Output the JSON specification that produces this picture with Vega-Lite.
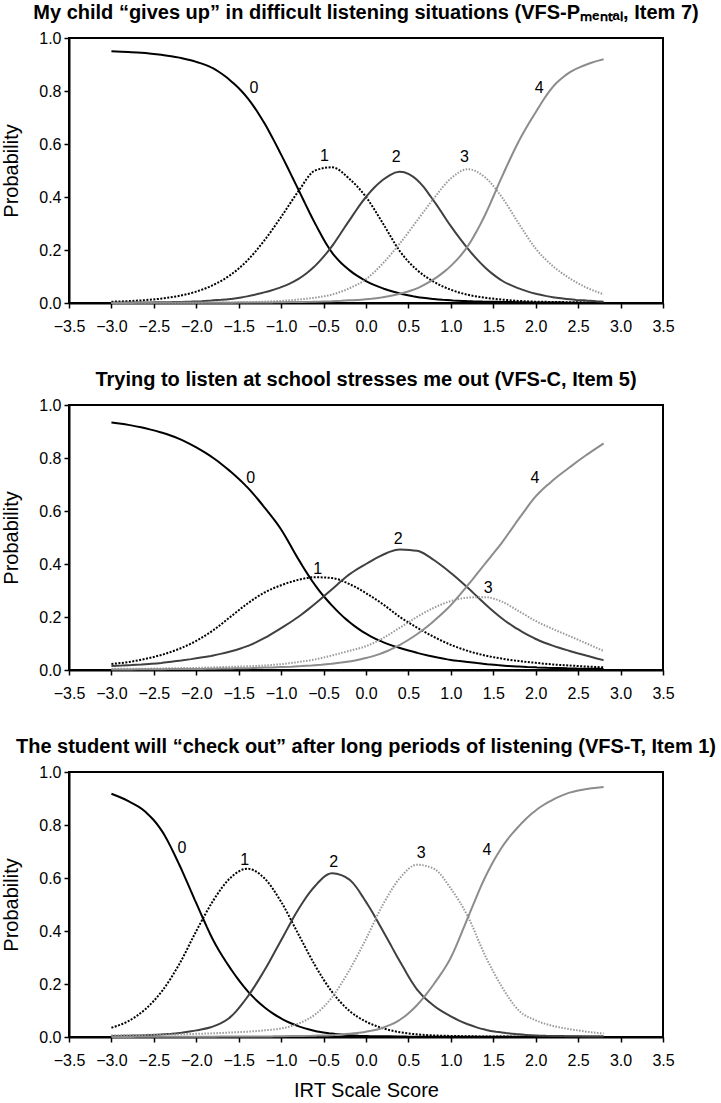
{
"$schema": "https://vega.github.io/schema/vega-lite/v6.json",
"padding": {"left": 0, "top": 2, "right": 5, "bottom": 0},
"spacing": 34,
"config": {
"font": "Liberation Sans",
"view": {"stroke": "#000", "strokeWidth": 2},
"axis": {"domainColor": "#000", "domainWidth": 2, "tickColor": "#000", "tickWidth": 1.5, "tickSize": 5, "labelFontSize": 16, "labelColor": "#000", "titleFontSize": 20, "titleFontWeight": "normal", "titleColor": "#000", "grid": false, "labelFont": "Liberation Sans", "titleFont": "Liberation Sans"},
"axisX": {"labelPadding": 10, "titlePadding": 12, "labelFlush": false, "labelOverlap": false},
"axisY": {"labelPadding": 3, "titlePadding": 17},
"title": {"fontSize": 20, "fontWeight": "bold", "color": "#000", "offset": 7, "anchor": "middle", "font": "Liberation Sans"},
"text": {"font": "Liberation Sans"}
},
"datasets": {
"c1": [
{"cat":"0","score":-3.0,"prob":0.950},{"cat":"0","score":-2.8,"prob":0.947},{"cat":"0","score":-2.6,"prob":0.943},{"cat":"0","score":-2.4,"prob":0.936},{"cat":"0","score":-2.2,"prob":0.926},{"cat":"0","score":-2.0,"prob":0.910},{"cat":"0","score":-1.8,"prob":0.885},{"cat":"0","score":-1.6,"prob":0.840},{"cat":"0","score":-1.4,"prob":0.775},{"cat":"0","score":-1.2,"prob":0.680},{"cat":"0","score":-1.0,"prob":0.560},{"cat":"0","score":-0.8,"prob":0.430},{"cat":"0","score":-0.6,"prob":0.300},{"cat":"0","score":-0.4,"prob":0.190},{"cat":"0","score":-0.2,"prob":0.125},{"cat":"0","score":0.0,"prob":0.083},{"cat":"0","score":0.2,"prob":0.055},{"cat":"0","score":0.4,"prob":0.036},{"cat":"0","score":0.6,"prob":0.023},{"cat":"0","score":0.8,"prob":0.015},{"cat":"0","score":1.0,"prob":0.010},{"cat":"0","score":1.2,"prob":0.007},{"cat":"0","score":1.4,"prob":0.005},{"cat":"0","score":1.6,"prob":0.004},{"cat":"0","score":1.8,"prob":0.003},{"cat":"0","score":2.0,"prob":0.002},{"cat":"0","score":2.2,"prob":0.002},{"cat":"0","score":2.4,"prob":0.001},{"cat":"0","score":2.6,"prob":0.001},{"cat":"0","score":2.8,"prob":0.001},
{"cat":"1","score":-3.0,"prob":0.005},{"cat":"1","score":-2.8,"prob":0.007},{"cat":"1","score":-2.6,"prob":0.011},{"cat":"1","score":-2.4,"prob":0.017},{"cat":"1","score":-2.2,"prob":0.027},{"cat":"1","score":-2.0,"prob":0.043},{"cat":"1","score":-1.8,"prob":0.068},{"cat":"1","score":-1.6,"prob":0.105},{"cat":"1","score":-1.4,"prob":0.160},{"cat":"1","score":-1.2,"prob":0.235},{"cat":"1","score":-1.0,"prob":0.325},{"cat":"1","score":-0.8,"prob":0.420},{"cat":"1","score":-0.6,"prob":0.500},{"cat":"1","score":-0.4,"prob":0.512},{"cat":"1","score":-0.2,"prob":0.470},{"cat":"1","score":0.0,"prob":0.400},{"cat":"1","score":0.2,"prob":0.300},{"cat":"1","score":0.4,"prob":0.195},{"cat":"1","score":0.6,"prob":0.125},{"cat":"1","score":0.8,"prob":0.080},{"cat":"1","score":1.0,"prob":0.050},{"cat":"1","score":1.2,"prob":0.031},{"cat":"1","score":1.4,"prob":0.020},{"cat":"1","score":1.6,"prob":0.013},{"cat":"1","score":1.8,"prob":0.008},{"cat":"1","score":2.0,"prob":0.005},{"cat":"1","score":2.2,"prob":0.004},{"cat":"1","score":2.4,"prob":0.003},{"cat":"1","score":2.6,"prob":0.002},{"cat":"1","score":2.8,"prob":0.001},
{"cat":"2","score":-3.0,"prob":0.001},{"cat":"2","score":-2.8,"prob":0.002},{"cat":"2","score":-2.6,"prob":0.002},{"cat":"2","score":-2.4,"prob":0.003},{"cat":"2","score":-2.2,"prob":0.004},{"cat":"2","score":-2.0,"prob":0.006},{"cat":"2","score":-1.8,"prob":0.010},{"cat":"2","score":-1.6,"prob":0.015},{"cat":"2","score":-1.4,"prob":0.025},{"cat":"2","score":-1.2,"prob":0.040},{"cat":"2","score":-1.0,"prob":0.060},{"cat":"2","score":-0.8,"prob":0.090},{"cat":"2","score":-0.6,"prob":0.140},{"cat":"2","score":-0.4,"prob":0.215},{"cat":"2","score":-0.2,"prob":0.310},{"cat":"2","score":0.0,"prob":0.400},{"cat":"2","score":0.2,"prob":0.465},{"cat":"2","score":0.4,"prob":0.495},{"cat":"2","score":0.6,"prob":0.465},{"cat":"2","score":0.8,"prob":0.385},{"cat":"2","score":1.0,"prob":0.290},{"cat":"2","score":1.2,"prob":0.205},{"cat":"2","score":1.4,"prob":0.135},{"cat":"2","score":1.6,"prob":0.085},{"cat":"2","score":1.8,"prob":0.055},{"cat":"2","score":2.0,"prob":0.035},{"cat":"2","score":2.2,"prob":0.022},{"cat":"2","score":2.4,"prob":0.014},{"cat":"2","score":2.6,"prob":0.009},{"cat":"2","score":2.8,"prob":0.005},
{"cat":"3","score":-3.0,"prob":0.000},{"cat":"3","score":-2.8,"prob":0.001},{"cat":"3","score":-2.6,"prob":0.001},{"cat":"3","score":-2.4,"prob":0.001},{"cat":"3","score":-2.2,"prob":0.001},{"cat":"3","score":-2.0,"prob":0.001},{"cat":"3","score":-1.8,"prob":0.002},{"cat":"3","score":-1.6,"prob":0.002},{"cat":"3","score":-1.4,"prob":0.003},{"cat":"3","score":-1.2,"prob":0.005},{"cat":"3","score":-1.0,"prob":0.008},{"cat":"3","score":-0.8,"prob":0.013},{"cat":"3","score":-0.6,"prob":0.020},{"cat":"3","score":-0.4,"prob":0.032},{"cat":"3","score":-0.2,"prob":0.055},{"cat":"3","score":0.0,"prob":0.090},{"cat":"3","score":0.2,"prob":0.150},{"cat":"3","score":0.4,"prob":0.225},{"cat":"3","score":0.6,"prob":0.310},{"cat":"3","score":0.8,"prob":0.395},{"cat":"3","score":1.0,"prob":0.470},{"cat":"3","score":1.2,"prob":0.505},{"cat":"3","score":1.4,"prob":0.475},{"cat":"3","score":1.6,"prob":0.400},{"cat":"3","score":1.8,"prob":0.300},{"cat":"3","score":2.0,"prob":0.205},{"cat":"3","score":2.2,"prob":0.140},{"cat":"3","score":2.4,"prob":0.093},{"cat":"3","score":2.6,"prob":0.058},{"cat":"3","score":2.8,"prob":0.033},
{"cat":"4","score":-3.0,"prob":0.000},{"cat":"4","score":-2.8,"prob":0.000},{"cat":"4","score":-2.6,"prob":0.001},{"cat":"4","score":-2.4,"prob":0.001},{"cat":"4","score":-2.2,"prob":0.001},{"cat":"4","score":-2.0,"prob":0.001},{"cat":"4","score":-1.8,"prob":0.001},{"cat":"4","score":-1.6,"prob":0.001},{"cat":"4","score":-1.4,"prob":0.002},{"cat":"4","score":-1.2,"prob":0.002},{"cat":"4","score":-1.0,"prob":0.003},{"cat":"4","score":-0.8,"prob":0.004},{"cat":"4","score":-0.6,"prob":0.005},{"cat":"4","score":-0.4,"prob":0.007},{"cat":"4","score":-0.2,"prob":0.010},{"cat":"4","score":0.0,"prob":0.014},{"cat":"4","score":0.2,"prob":0.022},{"cat":"4","score":0.4,"prob":0.035},{"cat":"4","score":0.6,"prob":0.055},{"cat":"4","score":0.8,"prob":0.090},{"cat":"4","score":1.0,"prob":0.140},{"cat":"4","score":1.2,"prob":0.215},{"cat":"4","score":1.4,"prob":0.330},{"cat":"4","score":1.6,"prob":0.475},{"cat":"4","score":1.8,"prob":0.610},{"cat":"4","score":2.0,"prob":0.720},{"cat":"4","score":2.2,"prob":0.815},{"cat":"4","score":2.4,"prob":0.870},{"cat":"4","score":2.6,"prob":0.900},{"cat":"4","score":2.8,"prob":0.920}
],
"c2": [
{"cat":"0","score":-3.0,"prob":0.934},{"cat":"0","score":-2.8,"prob":0.925},{"cat":"0","score":-2.6,"prob":0.912},{"cat":"0","score":-2.4,"prob":0.895},{"cat":"0","score":-2.2,"prob":0.872},{"cat":"0","score":-2.0,"prob":0.840},{"cat":"0","score":-1.8,"prob":0.800},{"cat":"0","score":-1.6,"prob":0.750},{"cat":"0","score":-1.4,"prob":0.690},{"cat":"0","score":-1.2,"prob":0.615},{"cat":"0","score":-1.0,"prob":0.530},{"cat":"0","score":-0.8,"prob":0.420},{"cat":"0","score":-0.6,"prob":0.320},{"cat":"0","score":-0.4,"prob":0.243},{"cat":"0","score":-0.2,"prob":0.182},{"cat":"0","score":0.0,"prob":0.137},{"cat":"0","score":0.2,"prob":0.105},{"cat":"0","score":0.4,"prob":0.083},{"cat":"0","score":0.6,"prob":0.065},{"cat":"0","score":0.8,"prob":0.050},{"cat":"0","score":1.0,"prob":0.038},{"cat":"0","score":1.2,"prob":0.030},{"cat":"0","score":1.4,"prob":0.023},{"cat":"0","score":1.6,"prob":0.017},{"cat":"0","score":1.8,"prob":0.013},{"cat":"0","score":2.0,"prob":0.010},{"cat":"0","score":2.2,"prob":0.008},{"cat":"0","score":2.4,"prob":0.006},{"cat":"0","score":2.6,"prob":0.005},{"cat":"0","score":2.8,"prob":0.004},
{"cat":"1","score":-3.0,"prob":0.023},{"cat":"1","score":-2.8,"prob":0.030},{"cat":"1","score":-2.6,"prob":0.042},{"cat":"1","score":-2.4,"prob":0.058},{"cat":"1","score":-2.2,"prob":0.080},{"cat":"1","score":-2.0,"prob":0.110},{"cat":"1","score":-1.8,"prob":0.150},{"cat":"1","score":-1.6,"prob":0.200},{"cat":"1","score":-1.4,"prob":0.250},{"cat":"1","score":-1.2,"prob":0.292},{"cat":"1","score":-1.0,"prob":0.320},{"cat":"1","score":-0.8,"prob":0.340},{"cat":"1","score":-0.6,"prob":0.350},{"cat":"1","score":-0.4,"prob":0.347},{"cat":"1","score":-0.2,"prob":0.325},{"cat":"1","score":0.0,"prob":0.290},{"cat":"1","score":0.2,"prob":0.248},{"cat":"1","score":0.4,"prob":0.200},{"cat":"1","score":0.6,"prob":0.160},{"cat":"1","score":0.8,"prob":0.125},{"cat":"1","score":1.0,"prob":0.095},{"cat":"1","score":1.2,"prob":0.072},{"cat":"1","score":1.4,"prob":0.055},{"cat":"1","score":1.6,"prob":0.043},{"cat":"1","score":1.8,"prob":0.034},{"cat":"1","score":2.0,"prob":0.027},{"cat":"1","score":2.2,"prob":0.021},{"cat":"1","score":2.4,"prob":0.017},{"cat":"1","score":2.6,"prob":0.013},{"cat":"1","score":2.8,"prob":0.010},
{"cat":"2","score":-3.0,"prob":0.015},{"cat":"2","score":-2.8,"prob":0.018},{"cat":"2","score":-2.6,"prob":0.022},{"cat":"2","score":-2.4,"prob":0.027},{"cat":"2","score":-2.2,"prob":0.035},{"cat":"2","score":-2.0,"prob":0.044},{"cat":"2","score":-1.8,"prob":0.055},{"cat":"2","score":-1.6,"prob":0.070},{"cat":"2","score":-1.4,"prob":0.090},{"cat":"2","score":-1.2,"prob":0.120},{"cat":"2","score":-1.0,"prob":0.158},{"cat":"2","score":-0.8,"prob":0.200},{"cat":"2","score":-0.6,"prob":0.250},{"cat":"2","score":-0.4,"prob":0.305},{"cat":"2","score":-0.2,"prob":0.360},{"cat":"2","score":0.0,"prob":0.400},{"cat":"2","score":0.2,"prob":0.435},{"cat":"2","score":0.4,"prob":0.455},{"cat":"2","score":0.6,"prob":0.450},{"cat":"2","score":0.8,"prob":0.415},{"cat":"2","score":1.0,"prob":0.366},{"cat":"2","score":1.2,"prob":0.310},{"cat":"2","score":1.4,"prob":0.250},{"cat":"2","score":1.6,"prob":0.195},{"cat":"2","score":1.8,"prob":0.152},{"cat":"2","score":2.0,"prob":0.117},{"cat":"2","score":2.2,"prob":0.092},{"cat":"2","score":2.4,"prob":0.072},{"cat":"2","score":2.6,"prob":0.054},{"cat":"2","score":2.8,"prob":0.037},
{"cat":"3","score":-3.0,"prob":0.004},{"cat":"3","score":-2.8,"prob":0.005},{"cat":"3","score":-2.6,"prob":0.005},{"cat":"3","score":-2.4,"prob":0.006},{"cat":"3","score":-2.2,"prob":0.007},{"cat":"3","score":-2.0,"prob":0.008},{"cat":"3","score":-1.8,"prob":0.010},{"cat":"3","score":-1.6,"prob":0.012},{"cat":"3","score":-1.4,"prob":0.014},{"cat":"3","score":-1.2,"prob":0.017},{"cat":"3","score":-1.0,"prob":0.022},{"cat":"3","score":-0.8,"prob":0.030},{"cat":"3","score":-0.6,"prob":0.040},{"cat":"3","score":-0.4,"prob":0.055},{"cat":"3","score":-0.2,"prob":0.072},{"cat":"3","score":0.0,"prob":0.090},{"cat":"3","score":0.2,"prob":0.120},{"cat":"3","score":0.4,"prob":0.160},{"cat":"3","score":0.6,"prob":0.200},{"cat":"3","score":0.8,"prob":0.235},{"cat":"3","score":1.0,"prob":0.260},{"cat":"3","score":1.2,"prob":0.273},{"cat":"3","score":1.4,"prob":0.275},{"cat":"3","score":1.6,"prob":0.258},{"cat":"3","score":1.8,"prob":0.222},{"cat":"3","score":2.0,"prob":0.185},{"cat":"3","score":2.2,"prob":0.155},{"cat":"3","score":2.4,"prob":0.128},{"cat":"3","score":2.6,"prob":0.100},{"cat":"3","score":2.8,"prob":0.072},
{"cat":"4","score":-3.0,"prob":0.002},{"cat":"4","score":-2.8,"prob":0.002},{"cat":"4","score":-2.6,"prob":0.003},{"cat":"4","score":-2.4,"prob":0.003},{"cat":"4","score":-2.2,"prob":0.004},{"cat":"4","score":-2.0,"prob":0.004},{"cat":"4","score":-1.8,"prob":0.005},{"cat":"4","score":-1.6,"prob":0.006},{"cat":"4","score":-1.4,"prob":0.007},{"cat":"4","score":-1.2,"prob":0.009},{"cat":"4","score":-1.0,"prob":0.011},{"cat":"4","score":-0.8,"prob":0.014},{"cat":"4","score":-0.6,"prob":0.018},{"cat":"4","score":-0.4,"prob":0.024},{"cat":"4","score":-0.2,"prob":0.032},{"cat":"4","score":0.0,"prob":0.045},{"cat":"4","score":0.2,"prob":0.065},{"cat":"4","score":0.4,"prob":0.095},{"cat":"4","score":0.6,"prob":0.135},{"cat":"4","score":0.8,"prob":0.185},{"cat":"4","score":1.0,"prob":0.245},{"cat":"4","score":1.2,"prob":0.320},{"cat":"4","score":1.4,"prob":0.400},{"cat":"4","score":1.6,"prob":0.480},{"cat":"4","score":1.8,"prob":0.570},{"cat":"4","score":2.0,"prob":0.655},{"cat":"4","score":2.2,"prob":0.715},{"cat":"4","score":2.4,"prob":0.765},{"cat":"4","score":2.6,"prob":0.812},{"cat":"4","score":2.8,"prob":0.855}
],
"c3": [
{"cat":"0","score":-3.0,"prob":0.918},{"cat":"0","score":-2.8,"prob":0.890},{"cat":"0","score":-2.6,"prob":0.850},{"cat":"0","score":-2.4,"prob":0.775},{"cat":"0","score":-2.2,"prob":0.650},{"cat":"0","score":-2.0,"prob":0.505},{"cat":"0","score":-1.8,"prob":0.365},{"cat":"0","score":-1.6,"prob":0.260},{"cat":"0","score":-1.4,"prob":0.175},{"cat":"0","score":-1.2,"prob":0.113},{"cat":"0","score":-1.0,"prob":0.070},{"cat":"0","score":-0.8,"prob":0.041},{"cat":"0","score":-0.6,"prob":0.023},{"cat":"0","score":-0.4,"prob":0.013},{"cat":"0","score":-0.2,"prob":0.007},{"cat":"0","score":0.0,"prob":0.004},{"cat":"0","score":0.2,"prob":0.003},{"cat":"0","score":0.4,"prob":0.002},{"cat":"0","score":0.6,"prob":0.001},{"cat":"0","score":0.8,"prob":0.001},{"cat":"0","score":1.0,"prob":0.001},{"cat":"0","score":1.2,"prob":0.001},{"cat":"0","score":1.4,"prob":0.001},{"cat":"0","score":1.6,"prob":0.001},{"cat":"0","score":1.8,"prob":0.001},{"cat":"0","score":2.0,"prob":0.001},{"cat":"0","score":2.2,"prob":0.001},{"cat":"0","score":2.4,"prob":0.001},{"cat":"0","score":2.6,"prob":0.001},{"cat":"0","score":2.8,"prob":0.001},
{"cat":"1","score":-3.0,"prob":0.035},{"cat":"1","score":-2.8,"prob":0.060},{"cat":"1","score":-2.6,"prob":0.105},{"cat":"1","score":-2.4,"prob":0.175},{"cat":"1","score":-2.2,"prob":0.275},{"cat":"1","score":-2.0,"prob":0.400},{"cat":"1","score":-1.8,"prob":0.515},{"cat":"1","score":-1.6,"prob":0.600},{"cat":"1","score":-1.4,"prob":0.635},{"cat":"1","score":-1.2,"prob":0.600},{"cat":"1","score":-1.0,"prob":0.510},{"cat":"1","score":-0.8,"prob":0.390},{"cat":"1","score":-0.6,"prob":0.270},{"cat":"1","score":-0.4,"prob":0.170},{"cat":"1","score":-0.2,"prob":0.100},{"cat":"1","score":0.0,"prob":0.058},{"cat":"1","score":0.2,"prob":0.033},{"cat":"1","score":0.4,"prob":0.018},{"cat":"1","score":0.6,"prob":0.010},{"cat":"1","score":0.8,"prob":0.006},{"cat":"1","score":1.0,"prob":0.004},{"cat":"1","score":1.2,"prob":0.003},{"cat":"1","score":1.4,"prob":0.002},{"cat":"1","score":1.6,"prob":0.002},{"cat":"1","score":1.8,"prob":0.001},{"cat":"1","score":2.0,"prob":0.001},{"cat":"1","score":2.2,"prob":0.001},{"cat":"1","score":2.4,"prob":0.001},{"cat":"1","score":2.6,"prob":0.001},{"cat":"1","score":2.8,"prob":0.001},
{"cat":"2","score":-3.0,"prob":0.004},{"cat":"2","score":-2.8,"prob":0.005},{"cat":"2","score":-2.6,"prob":0.007},{"cat":"2","score":-2.4,"prob":0.010},{"cat":"2","score":-2.2,"prob":0.015},{"cat":"2","score":-2.0,"prob":0.025},{"cat":"2","score":-1.8,"prob":0.040},{"cat":"2","score":-1.6,"prob":0.075},{"cat":"2","score":-1.4,"prob":0.150},{"cat":"2","score":-1.2,"prob":0.250},{"cat":"2","score":-1.0,"prob":0.365},{"cat":"2","score":-0.8,"prob":0.480},{"cat":"2","score":-0.6,"prob":0.570},{"cat":"2","score":-0.4,"prob":0.618},{"cat":"2","score":-0.2,"prob":0.595},{"cat":"2","score":0.0,"prob":0.510},{"cat":"2","score":0.2,"prob":0.400},{"cat":"2","score":0.4,"prob":0.285},{"cat":"2","score":0.6,"prob":0.180},{"cat":"2","score":0.8,"prob":0.118},{"cat":"2","score":1.0,"prob":0.078},{"cat":"2","score":1.2,"prob":0.048},{"cat":"2","score":1.4,"prob":0.028},{"cat":"2","score":1.6,"prob":0.017},{"cat":"2","score":1.8,"prob":0.010},{"cat":"2","score":2.0,"prob":0.006},{"cat":"2","score":2.2,"prob":0.004},{"cat":"2","score":2.4,"prob":0.003},{"cat":"2","score":2.6,"prob":0.002},{"cat":"2","score":2.8,"prob":0.002},
{"cat":"3","score":-3.0,"prob":0.007},{"cat":"3","score":-2.8,"prob":0.007},{"cat":"3","score":-2.6,"prob":0.008},{"cat":"3","score":-2.4,"prob":0.009},{"cat":"3","score":-2.2,"prob":0.010},{"cat":"3","score":-2.0,"prob":0.012},{"cat":"3","score":-1.8,"prob":0.014},{"cat":"3","score":-1.6,"prob":0.017},{"cat":"3","score":-1.4,"prob":0.020},{"cat":"3","score":-1.2,"prob":0.025},{"cat":"3","score":-1.0,"prob":0.032},{"cat":"3","score":-0.8,"prob":0.050},{"cat":"3","score":-0.6,"prob":0.085},{"cat":"3","score":-0.4,"prob":0.150},{"cat":"3","score":-0.2,"prob":0.250},{"cat":"3","score":0.0,"prob":0.370},{"cat":"3","score":0.2,"prob":0.500},{"cat":"3","score":0.4,"prob":0.600},{"cat":"3","score":0.6,"prob":0.650},{"cat":"3","score":0.8,"prob":0.635},{"cat":"3","score":1.0,"prob":0.560},{"cat":"3","score":1.2,"prob":0.455},{"cat":"3","score":1.4,"prob":0.310},{"cat":"3","score":1.6,"prob":0.190},{"cat":"3","score":1.8,"prob":0.100},{"cat":"3","score":2.0,"prob":0.063},{"cat":"3","score":2.2,"prob":0.042},{"cat":"3","score":2.4,"prob":0.030},{"cat":"3","score":2.6,"prob":0.020},{"cat":"3","score":2.8,"prob":0.013},
{"cat":"4","score":-3.0,"prob":0.000},{"cat":"4","score":-2.8,"prob":0.000},{"cat":"4","score":-2.6,"prob":0.001},{"cat":"4","score":-2.4,"prob":0.001},{"cat":"4","score":-2.2,"prob":0.001},{"cat":"4","score":-2.0,"prob":0.001},{"cat":"4","score":-1.8,"prob":0.001},{"cat":"4","score":-1.6,"prob":0.002},{"cat":"4","score":-1.4,"prob":0.002},{"cat":"4","score":-1.2,"prob":0.002},{"cat":"4","score":-1.0,"prob":0.003},{"cat":"4","score":-0.8,"prob":0.004},{"cat":"4","score":-0.6,"prob":0.005},{"cat":"4","score":-0.4,"prob":0.007},{"cat":"4","score":-0.2,"prob":0.012},{"cat":"4","score":0.0,"prob":0.020},{"cat":"4","score":0.2,"prob":0.035},{"cat":"4","score":0.4,"prob":0.065},{"cat":"4","score":0.6,"prob":0.120},{"cat":"4","score":0.8,"prob":0.200},{"cat":"4","score":1.0,"prob":0.300},{"cat":"4","score":1.2,"prob":0.450},{"cat":"4","score":1.4,"prob":0.600},{"cat":"4","score":1.6,"prob":0.715},{"cat":"4","score":1.8,"prob":0.795},{"cat":"4","score":2.0,"prob":0.855},{"cat":"4","score":2.2,"prob":0.895},{"cat":"4","score":2.4,"prob":0.922},{"cat":"4","score":2.6,"prob":0.936},{"cat":"4","score":2.8,"prob":0.943}
],
"l1": [{"cat":"0","score":-1.32,"prob":0.81},{"cat":"1","score":-0.49,"prob":0.555},{"cat":"2","score":0.355,"prob":0.55},{"cat":"3","score":1.16,"prob":0.55},{"cat":"4","score":2.04,"prob":0.81}],
"l2": [{"cat":"0","score":-1.36,"prob":0.726},{"cat":"1","score":-0.57,"prob":0.383},{"cat":"2","score":0.38,"prob":0.496},{"cat":"3","score":1.44,"prob":0.309},{"cat":"4","score":1.99,"prob":0.726}],
"l3": [{"cat":"0","score":-2.17,"prob":0.712},{"cat":"1","score":-1.43,"prob":0.667},{"cat":"2","score":-0.38,"prob":0.659},{"cat":"3","score":0.65,"prob":0.693},{"cat":"4","score":1.425,"prob":0.705}]
},
"vconcat": [
{
"title": "My child “gives up” in difficult listening situations (VFS-Pₘₑₙₜₐₗ, Item 7)",
"width": 594, "height": 265,
"layer": [
{"data": {"name": "c1"}, "mark": {"type": "line", "strokeWidth": 2, "interpolate": "monotone"},
"encoding": {
"x": {"field": "score", "type": "quantitative", "scale": {"domain": [-3.5, 3.5], "nice": false}, "axis": {"title": null, "values": [-3.5,-3,-2.5,-2,-1.5,-1,-0.5,0,0.5,1,1.5,2,2.5,3,3.5], "format": ".1f"}},
"y": {"field": "prob", "type": "quantitative", "scale": {"domain": [0, 1], "nice": false}, "axis": {"title": "Probability", "values": [0,0.2,0.4,0.6,0.8,1], "format": ".1f"}},
"color": {"field": "cat", "type": "nominal", "scale": {"domain": ["0","1","2","3","4"], "range": ["#000000","#000000","#404040","#999999","#8c8c8c"]}, "legend": null},
"strokeDash": {"field": "cat", "type": "nominal", "scale": {"domain": ["0","1","2","3","4"], "range": [[10,0],[2,1.5],[10,0],[1.5,1.5],[10,0]]}, "legend": null}
}},
{"data": {"name": "l1"}, "mark": {"type": "text", "fontSize": 16, "align": "center", "baseline": "middle", "color": "#000"},
"encoding": {"x": {"field": "score", "type": "quantitative"}, "y": {"field": "prob", "type": "quantitative"}, "text": {"field": "cat"}}}
]
},
{
"title": "Trying to listen at school stresses me out (VFS-C, Item 5)",
"width": 594, "height": 265,
"layer": [
{"data": {"name": "c2"}, "mark": {"type": "line", "strokeWidth": 2, "interpolate": "monotone"},
"encoding": {
"x": {"field": "score", "type": "quantitative", "scale": {"domain": [-3.5, 3.5], "nice": false}, "axis": {"title": null, "values": [-3.5,-3,-2.5,-2,-1.5,-1,-0.5,0,0.5,1,1.5,2,2.5,3,3.5], "format": ".1f"}},
"y": {"field": "prob", "type": "quantitative", "scale": {"domain": [0, 1], "nice": false}, "axis": {"title": "Probability", "values": [0,0.2,0.4,0.6,0.8,1], "format": ".1f"}},
"color": {"field": "cat", "type": "nominal", "scale": {"domain": ["0","1","2","3","4"], "range": ["#000000","#000000","#404040","#999999","#8c8c8c"]}, "legend": null},
"strokeDash": {"field": "cat", "type": "nominal", "scale": {"domain": ["0","1","2","3","4"], "range": [[10,0],[2,1.5],[10,0],[1.5,1.5],[10,0]]}, "legend": null}
}},
{"data": {"name": "l2"}, "mark": {"type": "text", "fontSize": 16, "align": "center", "baseline": "middle", "color": "#000"},
"encoding": {"x": {"field": "score", "type": "quantitative"}, "y": {"field": "prob", "type": "quantitative"}, "text": {"field": "cat"}}}
]
},
{
"title": "The student will “check out” after long periods of listening (VFS-T, Item 1)",
"width": 594, "height": 265,
"layer": [
{"data": {"name": "c3"}, "mark": {"type": "line", "strokeWidth": 2, "interpolate": "monotone"},
"encoding": {
"x": {"field": "score", "type": "quantitative", "scale": {"domain": [-3.5, 3.5], "nice": false}, "axis": {"title": "IRT Scale Score", "values": [-3.5,-3,-2.5,-2,-1.5,-1,-0.5,0,0.5,1,1.5,2,2.5,3,3.5], "format": ".1f"}},
"y": {"field": "prob", "type": "quantitative", "scale": {"domain": [0, 1], "nice": false}, "axis": {"title": "Probability", "values": [0,0.2,0.4,0.6,0.8,1], "format": ".1f"}},
"color": {"field": "cat", "type": "nominal", "scale": {"domain": ["0","1","2","3","4"], "range": ["#000000","#000000","#404040","#999999","#8c8c8c"]}, "legend": null},
"strokeDash": {"field": "cat", "type": "nominal", "scale": {"domain": ["0","1","2","3","4"], "range": [[10,0],[2,1.5],[10,0],[1.5,1.5],[10,0]]}, "legend": null}
}},
{"data": {"name": "l3"}, "mark": {"type": "text", "fontSize": 16, "align": "center", "baseline": "middle", "color": "#000"},
"encoding": {"x": {"field": "score", "type": "quantitative"}, "y": {"field": "prob", "type": "quantitative"}, "text": {"field": "cat"}}}
]
}
]
}
